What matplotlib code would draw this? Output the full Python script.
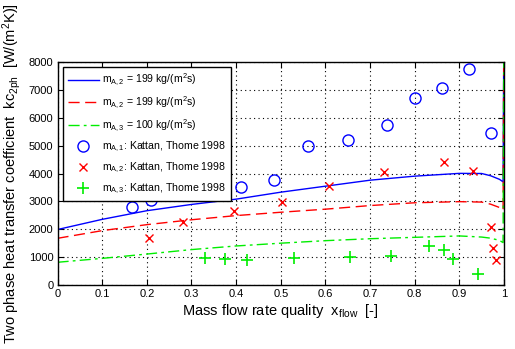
import numpy as np
import matplotlib
matplotlib.use("Agg")
import matplotlib.pyplot as plt

plt.rcParams['font.family'] = 'Liberation Sans'
plt.rcParams['mathtext.fontset'] = 'custom'
plt.rcParams['mathtext.rm'] = 'Liberation Sans'
plt.rcParams['mathtext.it'] = 'Liberation Sans'

# model curves (flow quality vs. two phase heat transfer coefficient)
x_model = [0.0, 0.1, 0.2, 0.3, 0.4, 0.5, 0.6, 0.7, 0.8, 0.9, 0.95, 0.97, 0.99, 0.998, 1.0]
kc_m2_a = [1990, 2355, 2665, 2890, 3080, 3330, 3545, 3760, 3905, 4005, 4000, 3920, 3790, 3700, 10000]
kc_m2_b = [1675, 1950, 2165, 2340, 2490, 2610, 2720, 2850, 2950, 2990, 2975, 2900, 2780, 2690, 10000]
kc_m3 = [815, 955, 1110, 1270, 1400, 1500, 1590, 1660, 1710, 1760, 1720, 1680, 1600, 1520, 10000]

# measurements Kattan, Thome 1998
x_m1 = [0.166, 0.209, 0.411, 0.484, 0.562, 0.651, 0.739, 0.801, 0.862, 0.922, 0.971]
kc_m1 = [2790, 3050, 3500, 3750, 4985, 5190, 5730, 6700, 7055, 7740, 5450]
x_m2 = [0.206, 0.281, 0.396, 0.502, 0.607, 0.732, 0.866, 0.930, 0.971, 0.976, 0.982]
kc_m2 = [1675, 2270, 2655, 2990, 3550, 4040, 4400, 4080, 2070, 1315, 885]
x_m3 = [0.330, 0.375, 0.425, 0.530, 0.655, 0.748, 0.833, 0.866, 0.886, 0.942]
kc_m3_meas = [957, 920, 897, 970, 993, 1030, 1388, 1255, 920, 383]

fig = plt.figure(figsize=(5.15, 3.49), dpi=100)
ax = fig.add_axes([0.1117, 0.1834, 0.8669, 0.6389])

ax.plot(x_model, kc_m2_a, '-', color='#0000ff', lw=1,
        label='$m_{A,2}$ = 199 kg/(m$^2$s)')
ax.plot(x_model, kc_m2_b, '--', color='#ff0000', lw=1, dashes=(8, 4),
        label='$m_{A,2}$ = 199 kg/(m$^2$s)')
ax.plot(x_model, kc_m3, '-.', color='#00ee00', lw=1, dashes=(8, 3, 2, 3),
        label='$m_{A,3}$ = 100 kg/(m$^2$s)')
ax.plot(x_m1, kc_m1, 'o', mfc='none', mec='#0000ff', ms=8, mew=1,
        label='$m_{A,1}$: Kattan, Thome 1998')
ax.plot(x_m2, kc_m2, 'x', color='#ff0000', ms=6, mew=1,
        label='$m_{A,2}$: Kattan, Thome 1998')
ax.plot(x_m3, kc_m3_meas, '+', color='#00ee00', ms=9, mew=1.2,
        label='$m_{A,3}$: Kattan, Thome 1998')

ax.set_xlim(0, 1)
ax.set_ylim(0, 8000)
ax.set_xticks(np.arange(0, 1.01, 0.1))
ax.set_xticklabels(['0', '0.1', '0.2', '0.3', '0.4', '0.5', '0.6', '0.7', '0.8', '0.9', '1'])
ax.set_yticks(np.arange(0, 8001, 1000))
ax.tick_params(direction='in', top=True, right=True, labelsize=8, length=4, pad=3)
ax.grid(True, linestyle=(0, (1, 3)), color='black', lw=0.8)
for s in ax.spines.values():
    s.set_linewidth(1)

ax.set_xlabel('Mass flow rate quality  x$_{flow}$  [-]', fontsize=10.5, labelpad=2)
ax.set_ylabel('Two phase heat transfer coefficient  kc$_{2ph}$  [W/(m$^2$K)]',
              fontsize=10.5, labelpad=4)

leg = ax.legend(loc='upper left', bbox_to_anchor=(0.013, 0.976), fontsize=7.6,
                frameon=True, fancybox=False, edgecolor='black', framealpha=1,
                borderaxespad=0, handlelength=2.9, labelspacing=0.62,
                borderpad=0.45, handletextpad=0.3)
leg.get_frame().set_linewidth(1)

fig.savefig('out.png', dpi=100)
